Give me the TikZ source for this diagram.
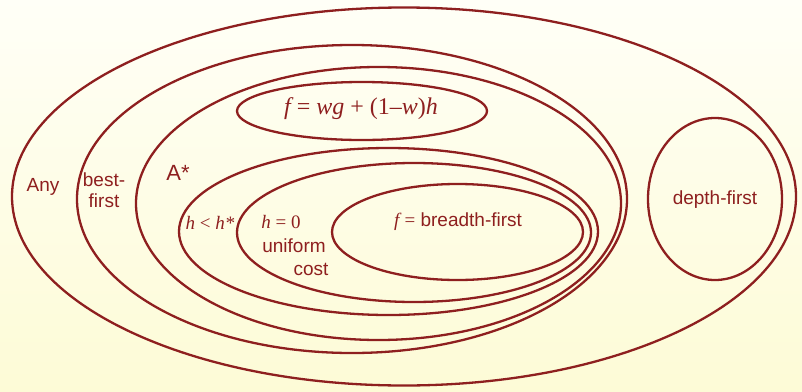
\documentclass[tikz,border=0pt]{standalone}
\usepackage{fontspec}
\setmainfont{Liberation Serif}
\setsansfont{Liberation Sans}
\usetikzlibrary{shapes.geometric}
\definecolor{lc}{RGB}{142,31,31}
\definecolor{bgtop}{RGB}{255,255,247}
\definecolor{bgbot}{RGB}{253,251,214}
\tikzset{
  ell/.style={draw=lc, line width=2.3pt, ellipse, inner sep=0pt, outer sep=0pt},
  lbl/.style={text=lc, font=\sffamily\fontsize{19}{21}\selectfont, inner sep=0pt, align=center},
  mth/.style={text=lc, font=\rmfamily\itshape\fontsize{19}{21}\selectfont, inner sep=0pt}
}
\begin{document}
\begin{tikzpicture}[x=1pt,y=-1pt]
\shade[top color=bgtop, bottom color=bgbot] (0,0) rectangle (802,391);
\useasboundingbox (0,0) rectangle (802,391);
\node[ell, minimum width=784pt, minimum height=378pt] (any) at (404,196.5) {};
\node[ell, minimum width=550pt, minimum height=308pt] (best) at (352,199) {};
\node[ell, minimum width=485pt, minimum height=273pt] (astar) at (378.5,203.5) {};
\node[ell, minimum width=250pt, minimum height=58pt] (wg) at (362,111) {};
\node[ell, minimum width=419pt, minimum height=167pt] (hlt) at (388.5,231.5) {};
\node[ell, minimum width=354pt, minimum height=139pt] (hz) at (414,232.5) {};
\node[ell, minimum width=251pt, minimum height=96pt] (bf) at (457.5,232) {};
\node[ell, minimum width=134pt, minimum height=162pt] (df) at (715,199) {};
\node[lbl] (tany) at (43,187) {Any};
\node[lbl] (tbest) at (104,190) {best-\\first};
\node[lbl, font=\sffamily\fontsize{22}{24}\selectfont] (tastar) at (178,173) {A*};
\node[mth] (thlt) at (210,223) {h {\upshape<} h*};
\node[mth] (thz) at (281,222) {h {\upshape= 0}};
\node[lbl] (tuni) at (294,246) {uniform};
\node[lbl] (tcost) at (311,269) {cost};
\node[mth, font=\rmfamily\itshape\fontsize{24}{26}\selectfont] (twg) at (361,109) {f {\upshape=} wg {\upshape+ (1–}w{\upshape)}h};
\node[lbl] (tbf) at (458,222) {{\rmfamily\itshape f} {\rmfamily =} breadth-first};
\node[lbl] (tdf) at (715,200) {depth-first};
\end{tikzpicture}
\end{document}
